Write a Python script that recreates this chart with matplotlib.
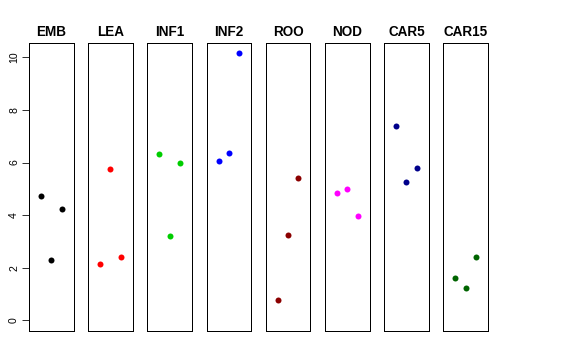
import matplotlib
matplotlib.use("Agg")
import matplotlib.pyplot as plt

groups = ["EMB", "LEA", "INF1", "INF2", "ROO", "NOD", "CAR5", "CAR15"]
colors = ["black", "red", "#00CD00", "blue", "#8B0000", "magenta", "#00008B", "#006400"]
values = {
    "EMB": [4.72, 2.31, 4.24],
    "LEA": [2.15, 5.74, 2.41],
    "INF1": [6.32, 3.20, 5.97],
    "INF2": [6.07, 6.37, 10.15],
    "ROO": [0.77, 3.26, 5.42],
    "NOD": [4.84, 4.99, 3.97],
    "CAR5": [7.39, 5.26, 5.78],
    "CAR15": [1.61, 1.24, 2.40],
}
positions = [1, 2, 3]
yticks = [0, 2, 4, 6, 8, 10]

plt.rcParams["font.family"] = ["Liberation Sans", "DejaVu Sans"]

fig = plt.figure(figsize=(8, 5), dpi=72)
W, H = 576, 360
left0, step, width = 29, 59.2, 44.5
top, bottom = 42.7, 331

ymax = max(max(v) for v in values.values())
pad = 0.04 * ymax

for i, g in enumerate(groups):
    ax = fig.add_axes([(left0 + i * step) / W, (H - bottom) / H, width / W, (bottom - top) / H])
    ax.plot(positions, values[g], "o", color=colors[i], markersize=6, markeredgewidth=0)
    ax.set_xlim(-0.16, 4.16)
    ax.set_ylim(-pad, ymax + pad)
    ax.set_xticks([])
    ax.set_title(g, fontsize=13.5, fontweight="bold", pad=7)
    for s in ax.spines.values():
        s.set_linewidth(1)
    if i == 0:
        ax.set_yticks(yticks)
        ax.set_yticklabels([str(t) for t in yticks], rotation=90, va="center", fontsize=10.5)
        ax.tick_params(axis="y", length=7, pad=3)
    else:
        ax.set_yticks([])

fig.savefig("out.png", dpi=72)
